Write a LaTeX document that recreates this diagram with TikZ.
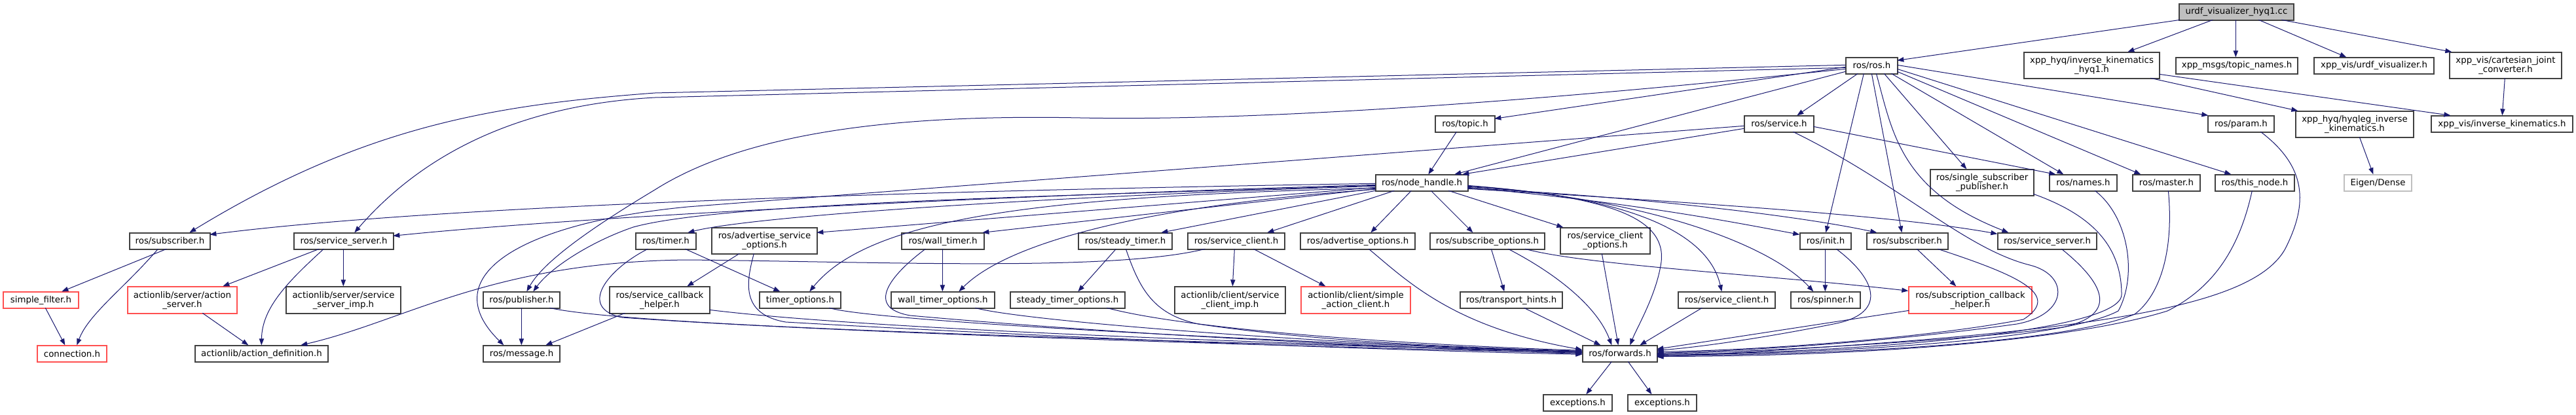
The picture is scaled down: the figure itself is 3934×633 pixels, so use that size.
\documentclass[tikz,border=0pt]{standalone}
\usepackage{fontspec}
\setmainfont{DejaVu Sans}
\usetikzlibrary{arrows.meta,calc}
\definecolor{edgec}{HTML}{191970}
\definecolor{nodeb}{HTML}{404040}
\definecolor{redb}{HTML}{FF5050}
\definecolor{grayf}{HTML}{BFBFBF}
\tikzset{
 nbox/.style={draw=nodeb, line width=1pt, fill=white, inner sep=0pt, align=center, font=\fontsize{10}{10.5}\selectfont},
 trunc/.style={draw=redb},
 rootn/.style={fill=grayf},
 ext/.style={draw=grayf},
 edg/.style={draw=edgec, line width=0.75pt, -{Triangle[length=7.5pt,width=5.5pt]}},
}
\newcommand\mybox[7]{\node[nbox,#1,minimum width={(#4-#3)*0.75pt},minimum height={(#6-#5)*0.75pt}] (#2) at ({(#3+#4)/2},{(#5+#6)/2}) {#7};}
\begin{document}
\begin{tikzpicture}[x=0.75pt,y=-0.75pt]
\fill[white] (0,0) rectangle (3934,633);
\useasboundingbox (0,0) rectangle (3934,633);
% row 0
\mybox{rootn}{root}{3328}{3503}{6}{31}{urdf\_visualizer\_hyq1.cc}
% row 1
\mybox{}{rosh}{2819}{2898}{88}{113}{ros/ros.h}
\mybox{}{ikhyq}{3091}{3298}{80}{120}{xpp\_hyq/inverse\_kinematics\\\_hyq1.h}
\mybox{}{topicnames}{3323}{3509}{88}{113}{xpp\_msgs/topic\_names.h}
\mybox{}{urdfvis}{3534}{3717}{88}{113}{xpp\_vis/urdf\_visualizer.h}
\mybox{}{cjc}{3741}{3912}{80}{120}{xpp\_vis/cartesian\_joint\\\_converter.h}
% row 2
\mybox{}{topic}{2192}{2283}{177}{202}{ros/topic.h}
\mybox{}{service}{2664}{2770}{177}{202}{ros/service.h}
\mybox{}{param}{3372}{3473}{177}{202}{ros/param.h}
\mybox{}{hyqleg}{3506}{3686}{170}{210}{xpp\_hyq/hyqleg\_inverse\\\_kinematics.h}
\mybox{}{ik}{3713}{3929}{177}{202}{xpp\_vis/inverse\_kinematics.h}
% row 3
\mybox{}{nh}{2101}{2242}{267}{292}{ros/node\_handle.h}
\mybox{}{ssp}{2948}{3106}{259}{299}{ros/single\_subscriber\\\_publisher.h}
\mybox{}{names}{3130}{3233}{267}{292}{ros/names.h}
\mybox{}{master}{3257}{3360}{267}{292}{ros/master.h}
\mybox{}{thisnode}{3383}{3504}{267}{292}{ros/this\_node.h}
\mybox{ext}{eigen}{3580}{3683}{267}{292}{Eigen/Dense}
% row 4
\mybox{}{subA}{198}{321}{356}{381}{ros/subscriber.h}
\mybox{}{ssA}{449}{601}{356}{381}{ros/service\_server.h}
\mybox{}{timer}{971}{1063}{356}{381}{ros/timer.h}
\mybox{}{aso}{1087}{1248}{348}{388}{ros/advertise\_service\\\_options.h}
\mybox{}{wtimer}{1377}{1503}{356}{381}{ros/wall\_timer.h}
\mybox{}{stimer}{1647}{1790}{356}{381}{ros/steady\_timer.h}
\mybox{}{scA}{1814}{1962}{356}{381}{ros/service\_client.h}
\mybox{}{aopt}{1986}{2161}{356}{381}{ros/advertise\_options.h}
\mybox{}{sopt}{2184}{2359}{356}{381}{ros/subscribe\_options.h}
\mybox{}{sco}{2383}{2520}{348}{388}{ros/service\_client\\\_options.h}
\mybox{}{inith}{2749}{2827}{356}{381}{ros/init.h}
\mybox{}{subB}{2851}{2975}{356}{381}{ros/subscriber.h}
\mybox{}{ssB}{3051}{3202}{356}{381}{ros/service\_server.h}
% row 5
\mybox{trunc}{sf}{5}{120}{446}{471}{simple\_filter.h}
\mybox{trunc}{asrv}{195}{362}{438}{479}{actionlib/server/action\\\_server.h}
\mybox{}{ssimp}{437}{612}{438}{479}{actionlib/server/service\\\_server\_imp.h}
\mybox{}{pub}{738}{855}{446}{471}{ros/publisher.h}
\mybox{}{sch}{931}{1084}{438}{479}{ros/service\_callback\\\_helper.h}
\mybox{}{tmo}{1160}{1284}{446}{471}{timer\_options.h}
\mybox{}{wto}{1361}{1519}{446}{471}{wall\_timer\_options.h}
\mybox{}{sto}{1543}{1718}{446}{471}{steady\_timer\_options.h}
\mybox{}{scimp}{1794}{1963}{438}{479}{actionlib/client/service\\\_client\_imp.h}
\mybox{trunc}{sac}{1987}{2154}{438}{479}{actionlib/client/simple\\\_action\_client.h}
\mybox{}{th}{2230}{2386}{446}{471}{ros/transport\_hints.h}
\mybox{}{scB}{2563}{2711}{446}{471}{ros/service\_client.h}
\mybox{}{spinner}{2735}{2841}{446}{471}{ros/spinner.h}
\mybox{trunc}{scbh}{2915}{3103}{438}{479}{ros/subscription\_callback\\\_helper.h}
% row 6
\mybox{trunc}{conn}{57}{163}{528}{553}{connection.h}
\mybox{}{adef}{298}{501}{528}{553}{actionlib/action\_definition.h}
\mybox{}{msg}{738}{855}{528}{553}{ros/message.h}
\mybox{}{fwd}{2417}{2531}{528}{553}{ros/forwards.h}
% row 7
\mybox{}{excA}{2357}{2462}{603}{628}{exceptions.h}
\mybox{}{excB}{2486}{2591}{603}{628}{exceptions.h}

% ---- edges: top
\draw[edg] ($(root.north west)+(2,25)$) -- ($(rosh.north west)+(79,5)$);
\draw[edg] ($(root.north west)+(52,25)$) -- ($(ikhyq.north west)+(159,0)$);
\draw[edg] ($(root.north west)+(87,25)$) -- ($(topicnames.north west)+(92,0)$);
\draw[edg] ($(root.north west)+(122,25)$) -- ($(urdfvis.north west)+(50,0)$);
\draw[edg] ($(root.north west)+(157,25)$) -- ($(cjc.north west)+(4,0)$);
\draw[edg] ($(ikhyq.north west)+(194,40)$) -- ($(hyqleg.north west)+(4,0)$);
\draw[edg] ($(ikhyq.north west)+(207,34)$) -- ($(ik.north west)+(30,0)$);
\draw[edg] ($(cjc.north west)+(85,40)$) -- ($(ik.north west)+(109,0)$);
\draw[edg] ($(hyqleg.north west)+(98,40)$) -- ($(eigen.north west)+(45,0)$);
% ros.h
\draw[edg] ($(rosh.north west)+(0,12)$) -- (1000,142) .. controls (760,160) and (560,190) .. ($(subA.north west)+(92,0)$);
\draw[edg] ($(rosh.north west)+(0,16)$) -- (1000,149) .. controls (800,160) and (650,230) .. ($(ssA.north west)+(93,0)$);
\draw[edg] ($(rosh.north west)+(0,18)$) .. controls (2300,160) and (1900,185) .. (1650,180) .. controls (1400,175) and (1150,195) .. (1000,290) .. controls (900,350) and (830,400) .. ($(pub.north west)+(67,0)$);
\draw[edg] ($(rosh.north west)+(0,15)$) -- ($(topic.north west)+(91,5)$);
\draw[edg] ($(rosh.north west)+(0,22)$) -- ($(nh.north west)+(121,0)$);
\draw[edg] ($(rosh.north west)+(19,25)$) -- ($(service.north west)+(81,0)$);
\draw[edg] ($(rosh.north west)+(28,25)$) -- ($(inith.north west)+(40,0)$);
\draw[edg] ($(rosh.north west)+(40,25)$) -- ($(subB.north west)+(54,0)$);
\draw[edg] ($(rosh.north west)+(47,25)$) .. controls (2890,200) and (2900,290) .. ($(ssB.north west)+(17,0)$);
\draw[edg] ($(rosh.north west)+(59,25)$) -- ($(ssp.north west)+(56,0)$);
\draw[edg] ($(rosh.north west)+(70,25)$) -- ($(names.north west)+(22,0)$);
\draw[edg] ($(rosh.north west)+(79,22)$) -- ($(master.north west)+(13,0)$);
\draw[edg] ($(rosh.north west)+(79,18)$) -- ($(thisnode.north west)+(25,0)$);
\draw[edg] ($(rosh.north west)+(79,12)$) -- ($(param.north west)+(1,0)$);
% service.h
\draw[edg] ($(service.north west)+(0,20)$) -- ($(nh.north west)+(133,0)$);
\draw[edg] ($(service.north west)+(106,17)$) -- ($(names.north west)+(10,0)$);
\draw[edg] ($(service.north west)+(0,16)$) -- (1050,316) .. controls (800,340) and (660,420) .. ($(msg.north west)+(32,0)$);
\draw[edg] ($(service.north west)+(75,25)$) .. controls (2900,280) and (3000,380) .. (3100,405) .. controls (3160,420) and (3160,480) .. (3080,495) .. controls (2900,520) and (2700,535) .. ($(fwd.north west)+(114,12)$);
\draw[edg] ($(topic.north west)+(33,25)$) -- ($(nh.north west)+(81,0)$);
% node_handle.h
\draw[edg] ($(nh.north west)+(0,14)$) .. controls (1500,290) and (700,310) .. ($(subA.north west)+(123,3)$);
\draw[edg] ($(nh.north west)+(0,16)$) .. controls (1500,300) and (900,330) .. ($(ssA.north west)+(152,5)$);
\draw[edg] ($(nh.north west)+(0,17)$) .. controls (1600,300) and (1100,310) .. (967,347) .. controls (900,370) and (840,410) .. ($(pub.north west)+(77,0)$);
\draw[edg] ($(nh.north west)+(0,18)$) .. controls (1600,300) and (1150,330) .. ($(timer.north west)+(80,0)$);
\draw[edg] ($(nh.north west)+(0,20)$) -- ($(aso.north west)+(161,8)$);
\draw[edg] ($(nh.north west)+(0,21)$) .. controls (1600,300) and (1330,330) .. ($(tmo.north west)+(77,0)$);
\draw[edg] ($(nh.north west)+(0,22)$) -- ($(wtimer.north west)+(124,0)$);
\draw[edg] ($(nh.north west)+(0,23)$) .. controls (1800,310) and (1550,360) .. ($(wto.north west)+(104,0)$);
\draw[edg] ($(nh.north west)+(0,25)$) -- ($(stimer.north west)+(127,0)$);
\draw[edg] ($(nh.north west)+(29,25)$) -- ($(scA.north west)+(122,0)$);
\draw[edg] ($(nh.north west)+(55,25)$) -- ($(aopt.north west)+(108,0)$);
\draw[edg] ($(nh.north west)+(85,25)$) -- ($(sopt.north west)+(66,0)$);
\draw[edg] ($(nh.north west)+(112,25)$) -- ($(sco.north west)+(5,0)$);
\draw[edg] ($(nh.north west)+(141,17)$) .. controls (2450,300) and (2545,330) .. (2537,400) .. controls (2530,450) and (2500,500) .. ($(fwd.north west)+(73,0)$);
\draw[edg] ($(nh.north west)+(141,18)$) .. controls (2500,300) and (2610,360) .. ($(scB.north west)+(67,0)$);
\draw[edg] ($(nh.north west)+(141,19)$) .. controls (2500,300) and (2700,370) .. ($(spinner.north west)+(35,0)$);
\draw[edg] ($(nh.north west)+(141,20)$) .. controls (2500,310) and (2650,340) .. ($(inith.north west)+(0,3)$);
\draw[edg] ($(nh.north west)+(141,21)$) .. controls (2500,300) and (2750,330) .. ($(subB.north west)+(16,0)$);
\draw[edg] ($(nh.north west)+(141,22)$) .. controls (2600,310) and (2900,330) .. ($(ssB.north west)+(0,2)$);
% left lower
\draw[edg] ($(subA.north west)+(57,25)$) -- ($(sf.north west)+(90,0)$);
\draw[edg] ($(subA.north west)+(44,25)$) .. controls (190,440) and (135,480) .. ($(conn.north west)+(61,0)$);
\draw[edg] ($(sf.north west)+(65,25)$) -- ($(conn.north west)+(43,0)$);
\draw[edg] ($(ssA.north west)+(39,25)$) -- ($(asrv.north west)+(146,0)$);
\draw[edg] ($(ssA.north west)+(46,25)$) .. controls (440,430) and (400,470) .. ($(adef.north west)+(102,0)$);
\draw[edg] ($(ssA.north west)+(76,25)$) -- ($(ssimp.north west)+(88,0)$);
\draw[edg] ($(asrv.north west)+(115,41)$) -- ($(adef.north west)+(82,0)$);
\draw[edg] ($(pub.north west)+(59,25)$) -- ($(msg.north west)+(59,0)$);
\draw[edg] ($(pub.north west)+(102,25)$) .. controls (950,495) and (1500,515) .. ($(fwd.north west)+(0,10)$);
\draw[edg] ($(sch.north west)+(24,41)$) -- ($(msg.north west)+(96,0)$);
\draw[edg] ($(sch.north west)+(153,36)$) .. controls (1300,500) and (1800,520) .. ($(fwd.north west)+(0,11)$);
\draw[edg] ($(timer.north west)+(76,25)$) -- ($(tmo.north west)+(32,0)$);
\draw[edg] ($(timer.north west)+(19,25)$) .. controls (930,410) and (880,470) .. (950,485) .. controls (1300,510) and (2000,530) .. ($(fwd.north west)+(0,12)$);
\draw[edg] ($(aso.north west)+(43,40)$) -- ($(sch.north west)+(119,0)$);
\draw[edg] ($(aso.north west)+(65,40)$) .. controls (1140,430) and (1130,480) .. (1200,492) .. controls (1600,515) and (2100,535) .. ($(fwd.north west)+(0,14)$);
\draw[edg] ($(wtimer.north west)+(63,25)$) -- ($(wto.north west)+(79,0)$);
\draw[edg] ($(wtimer.north west)+(37,25)$) .. controls (1360,420) and (1320,470) .. (1390,482) .. controls (1700,510) and (2100,530) .. ($(fwd.north west)+(0,13)$);
\draw[edg] ($(tmo.north west)+(107,25)$) .. controls (1330,490) and (1900,520) .. ($(fwd.north west)+(0,11)$);
\draw[edg] ($(wto.north west)+(129,25)$) .. controls (1560,490) and (2000,525) .. ($(fwd.north west)+(0,10)$);
\draw[edg] ($(stimer.north west)+(58,25)$) -- ($(sto.north west)+(104,0)$);
\draw[edg] ($(stimer.north west)+(73,25)$) .. controls (1740,440) and (1760,480) .. (1830,495) .. controls (2000,520) and (2200,530) .. ($(fwd.north west)+(0,9)$);
\draw[edg] ($(sto.north west)+(148,25)$) .. controls (1800,500) and (2100,525) .. ($(fwd.north west)+(0,8)$);
\draw[edg] ($(scA.north west)+(72,25)$) -- ($(scimp.north west)+(89,0)$);
\draw[edg] ($(scA.north west)+(101,25)$) -- ($(sac.north west)+(38,0)$);
\draw[edg] ($(scA.north west)+(27,25)$) .. controls (1700,415) and (1350,400) .. (1050,397) .. controls (750,400) and (620,490) .. ($(adef.north west)+(162,0)$);
% right lower
\draw[edg] ($(aopt.north west)+(105,25)$) .. controls (2150,430) and (2220,500) .. ($(fwd.north west)+(0,7)$);
\draw[edg] ($(sopt.north west)+(94,25)$) -- ($(th.north west)+(68,0)$);
\draw[edg] ($(sopt.north west)+(120,25)$) .. controls (2380,420) and (2440,470) .. ($(fwd.north west)+(45,0)$);
\draw[edg] ($(sopt.north west)+(146,25)$) .. controls (2420,405) and (2700,420) .. ($(scbh.north west)+(0,7)$);
\draw[edg] ($(sco.north west)+(64,40)$) -- ($(fwd.north west)+(55,0)$);
\draw[edg] ($(th.north west)+(98,25)$) -- ($(fwd.north west)+(28,0)$);
\draw[edg] ($(scB.north west)+(37,25)$) -- ($(fwd.north west)+(88,0)$);
\draw[edg] ($(inith.north west)+(39,25)$) -- ($(spinner.north west)+(53,0)$);
\draw[edg] ($(inith.north west)+(56,25)$) .. controls (2870,430) and (2880,480) .. (2800,495) .. controls (2700,515) and (2600,530) .. ($(fwd.north west)+(114,8)$);
\draw[edg] ($(subB.north west)+(77,25)$) -- ($(scbh.north west)+(73,0)$);
\draw[edg] ($(subB.north west)+(109,25)$) .. controls (3080,420) and (3150,450) .. (3090,488) .. controls (2950,515) and (2700,535) .. ($(fwd.north west)+(114,10)$);
\draw[edg] ($(scbh.north west)+(1,37)$) -- ($(fwd.north west)+(114,6)$);
\draw[edg] ($(ssB.north west)+(98,25)$) .. controls (3210,430) and (3240,480) .. (3150,500) .. controls (3000,520) and (2700,537) .. ($(fwd.north west)+(114,13)$);
\draw[edg] ($(ssp.north west)+(158,38)$) .. controls (3200,330) and (3240,380) .. (3240,450) .. controls (3240,510) and (2800,540) .. ($(fwd.north west)+(114,14)$);
\draw[edg] ($(names.north west)+(70,25)$) .. controls (3250,330) and (3265,420) .. (3235,475) .. controls (3150,520) and (2800,540) .. ($(fwd.north west)+(114,15)$);
\draw[edg] ($(master.north west)+(55,25)$) .. controls (3320,380) and (3300,450) .. (3260,480) .. controls (3150,525) and (2800,542) .. ($(fwd.north west)+(114,16)$);
\draw[edg] ($(thisnode.north west)+(57,25)$) .. controls (3420,380) and (3380,440) .. (3310,475) .. controls (3150,525) and (2800,545) .. ($(fwd.north west)+(114,17)$);
\draw[edg] ($(param.north west)+(81,25)$) .. controls (3530,260) and (3520,320) .. (3490,380) .. controls (3440,470) and (3200,510) .. ($(fwd.north west)+(114,18)$);
% forwards
\draw[edg] ($(fwd.north west)+(45,25)$) -- ($(excA.north west)+(66,0)$);
\draw[edg] ($(fwd.north west)+(70,25)$) -- ($(excB.north west)+(37,0)$);
\end{tikzpicture}
\end{document}
